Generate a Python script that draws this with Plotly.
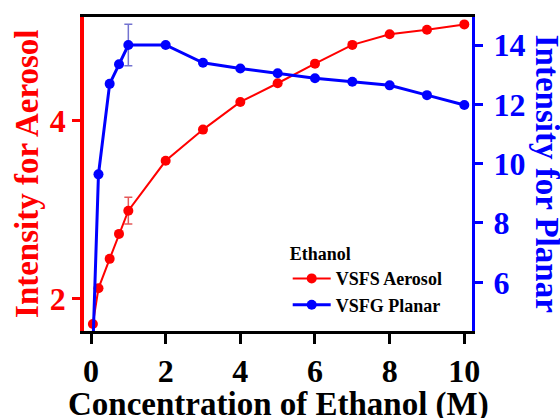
import plotly.graph_objects as go

# Ethanol concentration (M) and the two measured intensity series
concentration = [0.05, 0.2, 0.5, 0.75, 1, 2, 3, 4, 5, 6, 7, 8, 9, 10]
aerosol_intensity = [1.72, 2.12, 2.45, 2.73, 2.99, 3.55, 3.90, 4.21, 4.42, 4.64, 4.85, 4.97, 5.02, 5.08]
planar_intensity = [3.8, 9.64, 12.69, 13.35, 14.0, 14.0, 13.40, 13.21, 13.05, 12.88, 12.76, 12.64, 12.31, 11.98]
aerosol_error = [None, None, None, None, 0.15, None, None, None, None, None, None, None, None, None]
planar_error = [None, None, None, None, 0.70, None, None, None, None, None, None, None, None, None]

x_ticks = [0, 2, 4, 6, 8, 10]
aerosol_ticks = [2, 4]
planar_ticks = [6, 8, 10, 12, 14]

series_names = ["VSFS Aerosol", "VSFG Planar"]
legend_title = "Ethanol"
x_title = "Concentration of Ethanol (M)"
aerosol_title = "Intensity for Aerosol"
planar_title = "Intensity for Planar"

FONT = "Liberation Serif, Times New Roman, serif"
RED = "#ff0000"
BLUE = "#0000ff"


def error_points(xs, ys, errs):
    idx = [i for i, e in enumerate(errs) if e is not None]
    return [xs[i] for i in idx], [ys[i] for i in idx], [errs[i] for i in idx]


fig = go.Figure()

# error bars sit underneath the markers
ex, ey, ee = error_points(concentration, aerosol_intensity, aerosol_error)
fig.add_trace(go.Scatter(
    x=ex, y=ey, mode="markers", marker=dict(size=1, opacity=0),
    error_y=dict(type="data", array=ee, visible=True,
                 color="rgba(225,60,60,0.85)", thickness=1.5, width=4),
    showlegend=False, hoverinfo="skip", yaxis="y"))
ex, ey, ee = error_points(concentration, planar_intensity, planar_error)
fig.add_trace(go.Scatter(
    x=ex, y=ey, mode="markers", marker=dict(size=1, opacity=0),
    error_y=dict(type="data", array=ee, visible=True,
                 color="rgba(90,90,200,0.85)", thickness=1.5, width=4),
    showlegend=False, hoverinfo="skip", yaxis="y2"))

fig.add_trace(go.Scatter(
    x=concentration, y=aerosol_intensity, name=series_names[0],
    mode="lines+markers", line=dict(color=RED, width=2),
    marker=dict(color=RED, size=10), yaxis="y"))
fig.add_trace(go.Scatter(
    x=concentration, y=planar_intensity, name=series_names[1],
    mode="lines+markers", line=dict(color=BLUE, width=3),
    marker=dict(color=BLUE, size=10), yaxis="y2"))

tick_font = dict(family=FONT, size=32, weight="bold")
title_font = dict(family=FONT, size=33, weight="bold")

fig.update_layout(
    width=560, height=418,
    margin=dict(l=84, r=88, t=17, b=87),
    paper_bgcolor="white", plot_bgcolor="rgba(0,0,0,0)",
    showlegend=True,
    legend=dict(
        x=0.525, y=0.30, xanchor="left", yanchor="top",
        bgcolor="rgba(0,0,0,0)", borderwidth=0,
        title=dict(text=legend_title, font=dict(family=FONT, size=18, weight="bold", color="black")),
        font=dict(family=FONT, size=18, weight="bold", color="black"),
        tracegroupgap=0, itemwidth=38,
    ),
    xaxis=dict(
        range=[-0.1875, 10.206], tickvals=x_ticks,
        showline=True, linecolor="black", linewidth=3, mirror=True,
        ticks="outside", ticklen=10, tickwidth=3, tickcolor="black",
        showgrid=False, zeroline=False,
        tickfont=dict(color="black", **tick_font),
    ),
    yaxis=dict(
        range=[1.641, 5.163], tickvals=aerosol_ticks,
        showline=True, linecolor=RED, linewidth=3.5,
        ticks="outside", ticklen=8, tickwidth=3, tickcolor=RED,
        showgrid=False, zeroline=False,
        tickfont=dict(color=RED, **tick_font),
    ),
    yaxis2=dict(
        range=[4.359, 14.944], tickvals=planar_ticks,
        overlaying="y", side="right", anchor="x",
        showline=True, linecolor=BLUE, linewidth=3,
        ticks="outside", ticklen=8, tickwidth=3, tickcolor=BLUE,
        ticklabelstandoff=4,
        showgrid=False, zeroline=False,
        tickfont=dict(color=BLUE, **tick_font),
    ),
    annotations=[
        dict(text=x_title, xref="paper", yref="paper", x=0.5, y=-0.235,
             xanchor="center", yanchor="middle", showarrow=False,
             font=dict(color="black", **title_font)),
        dict(text=aerosol_title, xref="paper", yref="paper", x=-0.147, y=0.5,
             xanchor="center", yanchor="middle", textangle=-90, showarrow=False,
             font=dict(color=RED, **title_font)),
        dict(text=planar_title, xref="paper", yref="paper", x=1.194, y=0.5,
             xanchor="center", yanchor="middle", textangle=90, showarrow=False,
             font=dict(color=BLUE, **title_font)),
    ],
)

fig.write_html("out.html")
